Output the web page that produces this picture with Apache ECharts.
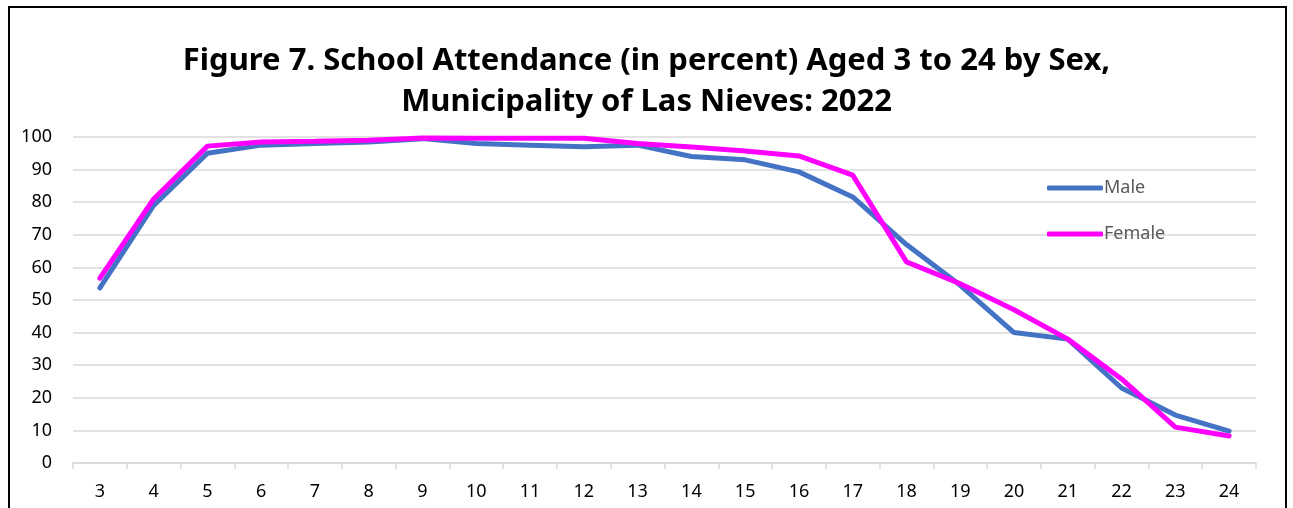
<!DOCTYPE html>
<html>
<head>
<meta charset="utf-8">
<script src="https://cdn.jsdelivr.net/npm/echarts@6/dist/echarts.min.js"></script>
<style>
  html, body { margin: 0; padding: 0; background: #fff; }
  #chart { width: 1293px; height: 508px; }
</style>
</head>
<body>
<div id="chart"></div>
<script>
// ages on the x axis
var ages = ['3', '4', '5', '6', '7', '8', '9', '10', '11', '12', '13', '14',
            '15', '16', '17', '18', '19', '20', '21', '22', '23', '24'];
// percent attending school
var male = [53.7, 79, 95, 97.5, 98, 98.5, 99.5, 98, 97.5, 97, 97.5, 94,
            93, 89.3, 81.6, 67, 54.5, 40, 38, 23, 14.7, 9.8];
var female = [56.7, 81, 97.2, 98.5, 98.7, 99, 99.7, 99.6, 99.6, 99.6, 98, 96.9,
              95.7, 94.2, 88.3, 61.7, 55, 47, 38, 25.8, 11, 8.3];

var font = '"Noto Sans", sans-serif';

var myChart = echarts.init(document.getElementById('chart'));
var option = {
    backgroundColor: '#fff',
    animation: false,
    title: {
        text: 'Figure 7. School Attendance (in percent) Aged 3 to 24 by Sex,\nMunicipality of Las Nieves: 2022',
        left: 'center',
        top: 36,
        textStyle: {
            fontFamily: font,
            fontWeight: 'bold',
            fontSize: 31,
            lineHeight: 41,
            color: '#000'
        }
    },
    legend: {
        orient: 'vertical',
        left: 1042,
        top: 174,
        itemGap: 28,
        itemWidth: 56,
        itemHeight: 5,
        icon: 'roundRect',
        textStyle: { fontFamily: font, fontSize: 18, color: '#595959', padding: [0, 0, 0, -4] },
        data: ['Male', 'Female']
    },
    grid: { left: 73, right: 37, top: 137, bottom: 45, containLabel: false },
    xAxis: {
        type: 'category',
        data: ages,
        boundaryGap: true,
        axisLine: { lineStyle: { color: '#d9d9d9', width: 1.5 } },
        axisTick: { show: true, length: 6, lineStyle: { color: '#d9d9d9', width: 1.5 } },
        axisLabel: { fontFamily: font, fontSize: 18, color: '#000', margin: 20 }
    },
    yAxis: {
        type: 'value',
        min: 0,
        max: 100,
        interval: 10,
        axisLine: { show: false },
        axisTick: { show: false },
        axisLabel: { fontFamily: font, fontSize: 18, color: '#000', margin: 21 },
        splitLine: { lineStyle: { color: '#d9d9d9', width: 1.5 } }
    },
    series: [
        {
            name: 'Male',
            type: 'line',
            data: male,
            symbol: 'none',
            itemStyle: { color: '#4472C4' },
            lineStyle: { color: '#4472C4', width: 5, cap: 'round' }
        },
        {
            name: 'Female',
            type: 'line',
            data: female,
            symbol: 'none',
            itemStyle: { color: '#FF00FF' },
            lineStyle: { color: '#FF00FF', width: 5, cap: 'round' }
        }
    ],
    graphic: [{
        type: 'rect',
        shape: { x: 9, y: 7, width: 1277, height: 520 },
        style: { fill: null, stroke: '#000', lineWidth: 2 },
        silent: true
    }]
};
myChart.setOption(option);
window.onresize = function () {
    myChart.resize();
};
</script>
</body>
</html>
